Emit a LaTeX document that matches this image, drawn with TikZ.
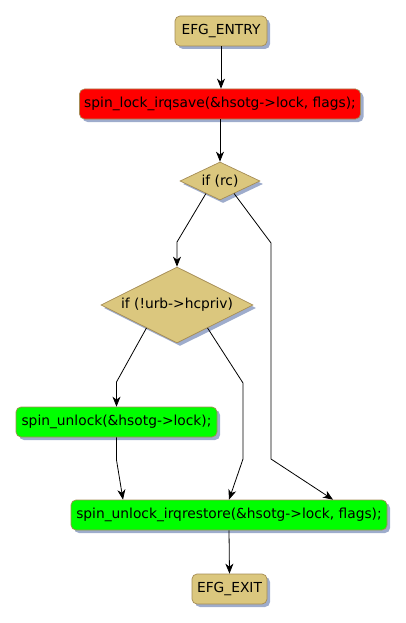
\documentclass[tikz,border=0pt]{standalone}
\usepackage{fontspec}
\setmainfont{DejaVu Sans}
\usepackage{tikz}
\usetikzlibrary{calc,shapes.geometric,shadows,arrows.meta}

\definecolor{efgtan}{RGB}{219,199,126}
\definecolor{efgedge}{RGB}{165,140,85}
\definecolor{efgshadow}{RGB}{158,172,204}
\definecolor{efgred}{RGB}{255,0,0}
\definecolor{efggreen}{RGB}{0,255,0}

\begin{document}
\begin{tikzpicture}[
  x=1pt, y=-1pt,
  every node/.style={draw=efgedge, line width=0.7pt, font=\fontsize{13.8}{16}\selectfont,
    drop shadow={shadow xshift=3pt, shadow yshift=-3pt, fill=efgshadow, opacity=1}},
  term/.style={rounded corners=5pt, fill=efgtan, minimum height=30pt, inner xsep=4pt},
  stmt/.style={rounded corners=5pt, minimum height=30pt, inner xsep=4pt},
  cond/.style={shape=diamond, fill=efgtan, inner sep=0pt, aspect=2},
  flow/.style={line width=0.8pt, ->},
  >={Stealth[length=10pt,width=8pt,inset=3pt]}
]
\useasboundingbox (0,0) rectangle (406,623);

% --- nodes ---
\node[term, minimum width=92pt] (entry) at (221,31) {EFG\_ENTRY};
\node[stmt, fill=efgred, minimum width=281pt] (lock) at (220,104) {spin\_lock\_irqsave(\&hsotg->lock, flags);};
\node[cond, minimum width=80pt, minimum height=38pt] (rc) at (220,181) {if (rc)};
\node[cond, minimum width=152pt, minimum height=76pt] (urb) at (177,305) {if (!urb->hcpriv)};
\node[stmt, fill=efggreen, minimum width=201pt] (unlock) at (116.5,422) {spin\_unlock(\&hsotg->lock);};
\node[stmt, fill=efggreen, minimum width=316pt] (restore) at (229,515) {spin\_unlock\_irqrestore(\&hsotg->lock, flags);};
\node[term, minimum width=75pt] (exit) at (229.5,589) {EFG\_EXIT};

% --- edges ---
\draw[flow] (entry.south) -- (entry.south |- lock.north);
\draw[flow] (lock.south) -- (rc.north);
\draw[flow] ($(rc.south)!0.35!(rc.west)$) -- (177,242) -- (urb.north);
\draw[flow] ($(rc.south)!0.35!(rc.east)$) -- (271,243) -- (271,459) -- ($(restore.north)+(104,0)$);
\draw[flow] ($(urb.south)!0.4!(urb.west)$) -- (116.5,382) -- (unlock.north);
\draw[flow] ($(urb.south)!0.4!(urb.east)$) -- (243,383) -- (243,459) -- (restore.north);
\draw[flow] (unlock.south) -- (116.5,460) -- ($(restore.north)+(-106,0)$);
\draw[flow] (restore.south) -- (exit.north);

\end{tikzpicture}
\end{document}
